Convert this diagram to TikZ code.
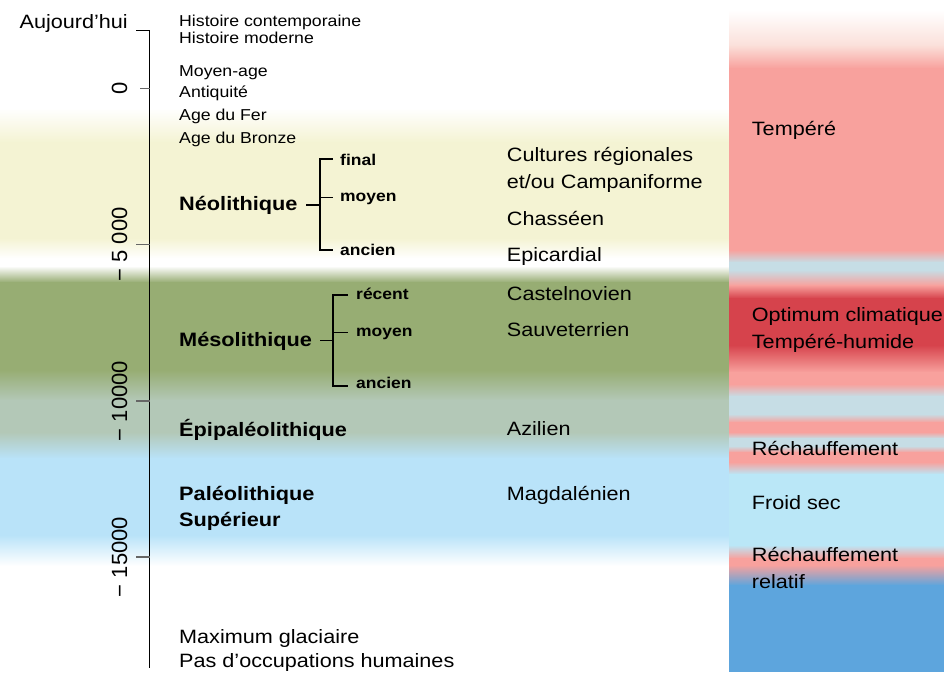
\documentclass[tikz,border=0pt]{standalone}
\usepackage{fontspec}
\setmainfont{Liberation Sans}[FakeStretch=1.12]
\newfontfamily\axisfont{Liberation Sans}
\definecolor{cream}{HTML}{F4F3D3}
\definecolor{olive}{HTML}{97AD73}
\definecolor{sage}{HTML}{B3C8B7}
\definecolor{sky}{HTML}{B9E3F9}
\definecolor{rosa}{HTML}{F8A19D}
\definecolor{rosapale}{HTML}{FBE0DA}
\definecolor{rouge}{HTML}{D6434C}
\definecolor{grisbleu}{HTML}{C6DDE5}
\definecolor{cyanpale}{HTML}{BAE7F7}
\definecolor{bleu}{HTML}{5DA5DD}
\definecolor{tickgray}{HTML}{666666}
\newcommand{\myband}[6]{\shade[top color=#5, bottom color=#6] (#1,#3) rectangle (#2,#4);}
\newcommand{\myflat}[5]{\fill[#5] (#1,#3) rectangle (#2,#4);}
\begin{document}
\begin{tikzpicture}[x=1pt,y=-1pt,
  lbl/.style={anchor=base west, inner sep=0, text=black, font=\fontsize{19.3}{23}\selectfont},
  smalllbl/.style={lbl, font=\fontsize{15.8}{19}\selectfont},
  bigb/.style={lbl, font=\fontsize{19.4}{23}\selectfont\bfseries},
  smallb/.style={lbl, font=\fontsize{15.6}{19}\selectfont\bfseries},
  axlab/.style={rotate=90, inner sep=0, text=black, font=\axisfont\fontsize{22}{26}\selectfont},
  conn/.style={line width=1.2pt, black},
  tickline/.style={line width=1.2pt, tickgray}]
\useasboundingbox (0,0) rectangle (944,672);
\fill[white] (0,0) rectangle (944,672);
% ---- left background bands
\myband{0}{729}{108}{142.5}{white}{cream}
\myflat{0}{729}{142}{238.5}{cream}
\myband{0}{729}{238}{258.5}{cream}{white}
\myband{0}{729}{266}{282.5}{white}{olive}
\myflat{0}{729}{282}{370.5}{olive}
\myband{0}{729}{370}{400.5}{olive}{sage}
\myflat{0}{729}{400}{432.5}{sage}
\myband{0}{729}{432}{458.5}{sage}{sky}
\myflat{0}{729}{458}{535.5}{sky}
\myband{0}{729}{535}{566}{sky}{white}
% ---- right climate column
\myband{729}{944}{10}{45.5}{white}{rosapale}
\myband{729}{944}{45}{68.5}{rosapale}{rosa}
\myflat{729}{944}{68}{250.5}{rosa}
\myband{729}{944}{250}{262.5}{rosa}{grisbleu}
\myflat{729}{944}{262}{270.5}{grisbleu}
\myband{729}{944}{270}{285.5}{grisbleu}{rosa}
\myband{729}{944}{285}{298.5}{rosa}{rouge}
\myflat{729}{944}{298}{345.5}{rouge}
\myband{729}{944}{345}{372.5}{rouge}{rosa}
\myflat{729}{944}{372}{384.5}{rosa}
\myband{729}{944}{384}{396.5}{rosa}{grisbleu}
\myflat{729}{944}{396}{414.5}{grisbleu}
\myband{729}{944}{414}{422.5}{grisbleu}{rosa}
\myflat{729}{944}{422}{432.5}{rosa}
\myband{729}{944}{432}{438.5}{rosa}{grisbleu}
\myflat{729}{944}{438}{446.5}{grisbleu}
\myband{729}{944}{446}{452.5}{grisbleu}{rosa}
\myflat{729}{944}{452}{462.5}{rosa}
\myband{729}{944}{462}{474.5}{rosa}{cyanpale}
\myflat{729}{944}{474}{545.5}{cyanpale}
\myband{729}{944}{545}{558.5}{cyanpale}{rosa}
\myflat{729}{944}{558}{565.5}{rosa}
\myband{729}{944}{565}{585.5}{rosa}{bleu}
\myflat{729}{944}{585}{672}{bleu}
% ---- time axis
\coordinate (axtop) at (149.5,30.7);
\coordinate (axbot) at (149.5,668);
\draw[conn] (axtop) -- (axbot);
\coordinate (t0) at (149.5,88.5);
\coordinate (t5) at (149.5,244.5);
\coordinate (t10) at (149.5,401);
\coordinate (t15) at (149.5,557);
\node[lbl, anchor=base east] (auj) at (128,28.3) {Aujourd’hui};
\draw[conn] (axtop) -- ++(-13.5,0);
\draw[tickline] (t0) -- ++(-10,0);
\draw[tickline] (t5) -- ++(-14,0);
\draw[tickline] (t10) -- ++(-14,0);
\draw[tickline] (t15) -- ++(-14,0);
\node[axlab] (l0) at (119.5,88.5) {0};
\node[axlab] (l5) at (119.5,244.5) {− 5 000};
\node[axlab] (l10) at (119.5,401) {− 10000};
\node[axlab] (l15) at (119.5,557) {− 15000};
% ---- historical periods
\node[smalllbl] (hc) at (179,26.7) {Histoire contemporaine};
\node[smalllbl] (hm) at (179,43) {Histoire moderne};
\node[smalllbl] (ma) at (179,76) {Moyen-age};
\node[smalllbl] (an) at (179,97.7) {Antiquité};
\node[smalllbl] (af) at (179,120.7) {Age du Fer};
\node[smalllbl] (ab) at (179,143) {Age du Bronze};
% ---- Neolithic
\node[bigb] (neo) at (179,210.7) {Néolithique};
\node[smallb] (nfin) at (340,165) {final};
\node[smallb] (nmoy) at (340,201.7) {moyen};
\node[smallb] (nanc) at (340,255) {ancien};
\coordinate (nj) at (320,205);
\coordinate (nf) at (332.7,159);
\coordinate (nm) at (332.7,197.3);
\coordinate (na) at (332.7,250);
\draw[conn, shorten <=8.7pt] (neo.east |- nj) -- (nj);
\draw[conn] (nf) -| (nj) |- (na);
\draw[conn] (nj |- nm) -- (nm);
% ---- Mesolithic
\node[bigb] (meso) at (179,346) {Mésolithique};
\node[smallb] (mrec) at (356,299.3) {récent};
\node[smallb] (mmoy) at (356,336.7) {moyen};
\node[smallb] (manc) at (356,388) {ancien};
\coordinate (mj) at (333,340.7);
\coordinate (mr) at (348,295);
\coordinate (mm) at (348,332.7);
\coordinate (ma2) at (348,386);
\draw[conn, shorten <=8pt] (meso.east |- mj) -- (mj);
\draw[conn] (mr) -| (mj) |- (ma2);
\draw[conn] (mj |- mm) -- (mm);
% ---- other periods
\node[bigb] (epi) at (179,436) {Épipaléolithique};
\node[bigb] (pal) at (179,500.7) {Paléolithique};
\node[bigb] (sup) at (179,526.7) {Supérieur};
\node[lbl] (mg) at (179,643.3) {Maximum glaciaire};
\node[lbl] (po) at (179,667) {Pas d’occupations humaines};
% ---- cultures
\node[lbl] (cr) at (506.7,161.7) {Cultures régionales};
\node[lbl] (cc) at (506.7,188.3) {et/ou Campaniforme};
\node[lbl] (ch) at (506.7,225) {Chasséen};
\node[lbl] (ep) at (506.7,261.7) {Epicardial};
\node[lbl] (ca) at (506.7,300) {Castelnovien};
\node[lbl] (sa) at (506.7,336.7) {Sauveterrien};
\node[lbl] (az) at (506.7,435) {Azilien};
\node[lbl] (mgd) at (506.7,500) {Magdalénien};
% ---- climate
\node[lbl] (te) at (751.7,135) {Tempéré};
\node[lbl] (oc) at (751.7,321.7) {Optimum climatique};
\node[lbl] (th) at (751.7,348) {Tempéré-humide};
\node[lbl] (r1) at (751.7,455) {Réchauffement};
\node[lbl] (fs) at (751.7,509) {Froid sec};
\node[lbl] (r2) at (751.7,561.7) {Réchauffement};
\node[lbl] (rl) at (751.7,588.3) {relatif};
\end{tikzpicture}
\end{document}
